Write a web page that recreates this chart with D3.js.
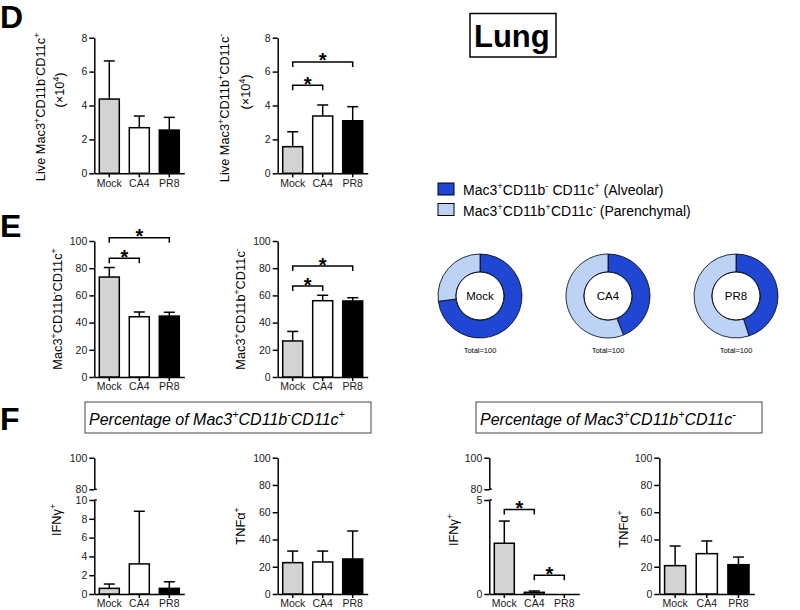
<!DOCTYPE html>
<html>
<head>
<meta charset="utf-8">
<script src="https://cdn.jsdelivr.net/npm/d3@7"></script>
<style>
  body { margin: 0; background: #fff; }
  svg { display: block; font-family: "Liberation Sans", Arial, sans-serif; }
</style>
</head>
<body>
<svg id="fig" width="800" height="610"></svg>
<script>
// ---- data ----
const groups = ["Mock", "CA4", "PR8"];
const groupFill = ["#d3d3d3", "#ffffff", "#000000"];

// D: live cell counts (x10^4)
const dAlvMean = [4.38, 2.69, 2.55];
const dAlvSD   = [2.25, 0.69, 0.75];
const dParMean = [1.57, 3.38, 3.10];
const dParSD   = [0.88, 0.65, 0.83];
const dTicks   = [0, 2, 4, 6, 8];

// E: percentages
const eAlvMean = [73.5, 44.3, 44.8];
const eAlvSD   = [7.0, 3.5, 2.8];
const eParMean = [26.5, 56.1, 55.9];
const eParSD   = [7.0, 4.0, 2.4];
const pctTicks = [0, 20, 40, 60, 80, 100];

// significance brackets: [from group, to group, level in data units]
const dParSig = [[0, 1, 5.2], [0, 2, 6.57]];
const eAlvSig = [[0, 1, 87.3], [0, 2, 102.4]];
const eParSig = [[0, 1, 66.9], [0, 2, 81.6]];

// donuts
const donutAlv = [73, 44, 45];
const donutPar = [27, 56, 55];
const donutTotal = "Total=100";

// F: cytokine positive %
const fAlvIfnMean = [0.6, 3.2, 0.6];
const fAlvIfnSD   = [0.46, 5.6, 0.7];
const fAlvTnfMean = [23.0, 23.5, 25.7];
const fAlvTnfSD   = [8.5, 8.0, 20.5];
const fParIfnMean = [2.7, 0.09, 0];
const fParIfnSD   = [1.18, 0.07, 0];
const fParTnfMean = [20.8, 29.6, 21.5];
const fParTnfSD   = [14.4, 9.3, 5.6];
const fParIfnSig  = [[0, 1, 4.5], [1, 2, 1.0]];

const DARK = "#2046d4", LIGHT = "#bcd3f6";

const svg = d3.select("#fig");

// text with superscripts: parts = [[string, "sup"?], ...]
function rich(textSel, parts, size) {
  let shift = 0;
  parts.forEach(([s, kind]) => {
    const t = textSel.append("tspan").text(s);
    const target = kind === "sup" ? -0.4 * size : 0;
    if (kind === "sup") t.attr("font-size", size * 0.68);
    if (target !== shift) { t.attr("dy", target - shift); shift = target; }
  });
  return textSel;
}

function yLabel(x, y, parts, size) {
  const t = svg.append("text")
    .attr("transform", `translate(${x},${y}) rotate(-90)`)
    .attr("text-anchor", "middle")
    .attr("dy", "0.35em")
    .attr("font-size", size);
  rich(t, parts, size);
}

function styleAxis(g) {
  g.select(".domain").attr("stroke", "#000").attr("stroke-width", 1.5);
  g.selectAll(".tick line").attr("stroke", "#000").attr("stroke-width", 1.5);
  g.selectAll(".tick text").attr("fill", "#1a1a1a").attr("font-size", 10.5)
    .attr("font-family", '"Liberation Sans", Arial, sans-serif');
}

const fmt = d3.format("d");

function barPanel(p) {
  const g = svg.append("g");
  const x = d3.scaleBand().domain(groups)
    .range([p.ax, p.ax + (p.w || 90)]).paddingInner(1 / 3).paddingOuter(1 / 6);
  let y;
  if (p.broken) {
    y = d3.scaleLinear().domain([0, p.broken.lowMax]).range([p.y0, p.broken.lowTop]);
    const yU = d3.scaleLinear().domain(p.broken.upDomain).range([p.broken.upBot, p.y1]);
    g.append("g").attr("transform", `translate(${p.ax},0)`)
      .call(d3.axisLeft(yU).tickValues(p.broken.upTicks).tickFormat(fmt)
        .tickSize(5).tickSizeOuter(0).tickPadding(2))
      .call(styleAxis);
    // break markers
    [yU(p.broken.upDomain[0]), y(p.broken.lowMax)].forEach(v => {
      g.append("line").attr("x1", p.ax).attr("x2", p.ax + 2.5).attr("y1", v).attr("y2", v)
        .attr("stroke", "#000").attr("stroke-width", 1.5);
    });
  } else {
    y = d3.scaleLinear().domain(p.domain).range([p.y0, p.y1]);
  }
  g.append("g").attr("transform", `translate(${p.ax},0)`)
    .call(d3.axisLeft(y).tickValues(p.ticks).tickFormat(fmt)
      .tickSize(5).tickSizeOuter(0).tickPadding(2))
    .call(styleAxis);
  g.append("g").attr("transform", `translate(0,${p.y0})`)
    .call(d3.axisBottom(x).tickSize(4).tickSizeOuter(0).tickPadding(2))
    .call(styleAxis);

  const rows = groups.map((k, i) => ({ k, i, m: p.mean[i], sd: p.sd[i] }));
  const bw = x.bandwidth();

  // error bars (upper only)
  const eb = g.selectAll(".err").data(rows.filter(d => d.sd > 0)).enter().append("g");
  eb.append("line")
    .attr("x1", d => x(d.k) + bw / 2).attr("x2", d => x(d.k) + bw / 2)
    .attr("y1", d => y(d.m)).attr("y2", d => y(d.m + d.sd))
    .attr("stroke", "#000").attr("stroke-width", 1.5);
  eb.append("line")
    .attr("x1", d => x(d.k) + bw / 2 - 5.5).attr("x2", d => x(d.k) + bw / 2 + 5.5)
    .attr("y1", d => y(d.m + d.sd)).attr("y2", d => y(d.m + d.sd))
    .attr("stroke", "#000").attr("stroke-width", 1.5);

  g.selectAll(".bar").data(rows.filter(d => d.m > 0)).enter().append("rect")
    .attr("x", d => x(d.k)).attr("width", bw)
    .attr("y", d => y(d.m)).attr("height", d => p.y0 - y(d.m))
    .attr("fill", d => groupFill[d.i]).attr("stroke", "#000").attr("stroke-width", 1.5);

  (p.sig || []).forEach(([a, b, lvl]) => {
    const xa = x(groups[a]) + bw / 2, xb = x(groups[b]) + bw / 2, yy = y(lvl);
    g.append("path")
      .attr("d", `M${xa},${yy + 5}V${yy}H${xb}V${yy + 5}`)
      .attr("fill", "none").attr("stroke", "#000").attr("stroke-width", 1.5);
    g.append("text").attr("x", (xa + xb) / 2).attr("y", yy + 5.5)
      .attr("text-anchor", "middle").attr("font-size", 20).attr("font-weight", "bold").text("*");
  });

  (p.labels || []).forEach(l => yLabel(l.x, l.y, l.parts, l.size || 12.8));
}

const labAlv = [["Mac3"], ["+", "sup"], ["CD11b"], ["-", "sup"], ["CD11c"], ["+", "sup"]];
const labPar = [["Mac3"], ["+", "sup"], ["CD11b"], ["+", "sup"], ["CD11c"], ["-", "sup"]];
const x104 = [["(×10"], ["4", "sup"], [")"]];

// ---- panel letters ----
[["D", 28], ["E", 237], ["F", 430]].forEach(([s, yy]) => {
  svg.append("text").attr("x", 0).attr("y", yy).attr("font-size", 32)
    .attr("font-weight", "bold").text(s);
});

// Lung title
svg.append("rect").attr("x", 470).attr("y", 13.5).attr("width", 86).attr("height", 43.5)
  .attr("fill", "none").attr("stroke", "#000").attr("stroke-width", 1.5);
svg.append("text").attr("x", 474).attr("y", 47).attr("font-size", 31)
  .attr("font-weight", "bold").text("Lung");

// ---- D ----
barPanel({ ax: 94.3, y0: 173.3, y1: 37.7, domain: [0, 8], ticks: dTicks,
  mean: dAlvMean, sd: dAlvSD,
  labels: [{ x: 41, y: 107, parts: [["Live "]].concat(labAlv) }, { x: 60, y: 90, parts: x104 }] });
barPanel({ ax: 277.7, y0: 173.3, y1: 37.7, domain: [0, 8], ticks: dTicks,
  mean: dParMean, sd: dParSD, sig: dParSig,
  labels: [{ x: 225, y: 108, parts: [["Live "]].concat(labPar) }, { x: 246, y: 92, parts: x104 }] });

// ---- E ----
barPanel({ ax: 94.3, y0: 377, y1: 241, domain: [0, 100], ticks: pctTicks,
  mean: eAlvMean, sd: eAlvSD, sig: eAlvSig,
  labels: [{ x: 58, y: 309, parts: labAlv }] });
barPanel({ ax: 277.7, y0: 377, y1: 241, domain: [0, 100], ticks: pctTicks,
  mean: eParMean, sd: eParSD, sig: eParSig,
  labels: [{ x: 241, y: 309, parts: labPar }] });

// legend
const legRows = [
  { c: DARK, parts: [["Mac3"], ["+", "sup"], ["CD11b"], ["-", "sup"], [" CD11c"], ["+", "sup"], [" (Alveolar)"]] },
  { c: LIGHT, parts: [["Mac3"], ["+", "sup"], ["CD11b"], ["+", "sup"], ["CD11c"], ["-", "sup"], [" (Parenchymal)"]] }
];
legRows.forEach((r, i) => {
  const yy = 183 + i * 20.5;
  svg.append("rect").attr("x", 438).attr("y", yy).attr("width", 16).attr("height", 12)
    .attr("fill", r.c).attr("stroke", "#000").attr("stroke-width", 1);
  const t = svg.append("text").attr("x", 463).attr("y", yy + 12).attr("font-size", 14);
  rich(t, r.parts, 14);
});

// donuts
const pie = d3.pie().sort(null).value(d => d);
const arc = d3.arc().innerRadius(24).outerRadius(42);
const donutX = d3.scalePoint().domain(groups).range([480, 736]);
groups.forEach((k, i) => {
  const g = svg.append("g").attr("transform", `translate(${donutX(k)},296)`);
  g.selectAll("path").data(pie([donutAlv[i], donutPar[i]])).enter().append("path")
    .attr("d", arc).attr("fill", (d, j) => j === 0 ? DARK : LIGHT)
    .attr("stroke", "#000").attr("stroke-width", 0.8);
  g.append("circle").attr("r", 24).attr("fill", "#fff").attr("stroke", "#000").attr("stroke-width", 1);
  g.append("text").attr("text-anchor", "middle").attr("dy", "0.35em").attr("font-size", 11.5).text(k);
  g.append("text").attr("text-anchor", "middle").attr("y", 57).attr("font-size", 7.5).text(donutTotal);
});

// ---- F ----
[[85, labAlv], [476, labPar]].forEach(([bx, parts]) => {
  svg.append("rect").attr("x", bx).attr("y", 402).attr("width", 286).attr("height", 31)
    .attr("fill", "none").attr("stroke", "#444").attr("stroke-width", 1);
  const t = svg.append("text").attr("x", bx + 4).attr("y", 424.5).attr("font-size", 16)
    .attr("font-style", "italic");
  rich(t, [["Percentage of "]].concat(parts), 16);
});

const ifn = [["IFNγ"], ["+", "sup"]];
const tnf = [["TNFα"], ["+", "sup"]];
barPanel({ ax: 94.3, y0: 594, y1: 457.7, ticks: [0, 2, 4, 6, 8, 10],
  broken: { lowMax: 10, lowTop: 500, upDomain: [80, 100], upBot: 489.3, upTicks: [80, 100] },
  mean: fAlvIfnMean, sd: fAlvIfnSD, labels: [{ x: 57, y: 520, parts: ifn }] });
barPanel({ ax: 277.7, y0: 594, y1: 457.7, domain: [0, 100], ticks: pctTicks,
  mean: fAlvTnfMean, sd: fAlvTnfSD, labels: [{ x: 241, y: 526, parts: tnf }] });
barPanel({ ax: 489.3, y0: 594, y1: 457.7, ticks: [0, 5],
  broken: { lowMax: 5, lowTop: 500, upDomain: [80, 100], upBot: 489.3, upTicks: [80, 100] },
  mean: fParIfnMean, sd: fParIfnSD, sig: fParIfnSig, labels: [{ x: 454, y: 530, parts: ifn }] });
barPanel({ ax: 659.3, w: 95, y0: 594, y1: 457.7, domain: [0, 100], ticks: pctTicks,
  mean: fParTnfMean, sd: fParTnfSD, labels: [{ x: 624, y: 529, parts: tnf }] });
</script>
</body>
</html>
